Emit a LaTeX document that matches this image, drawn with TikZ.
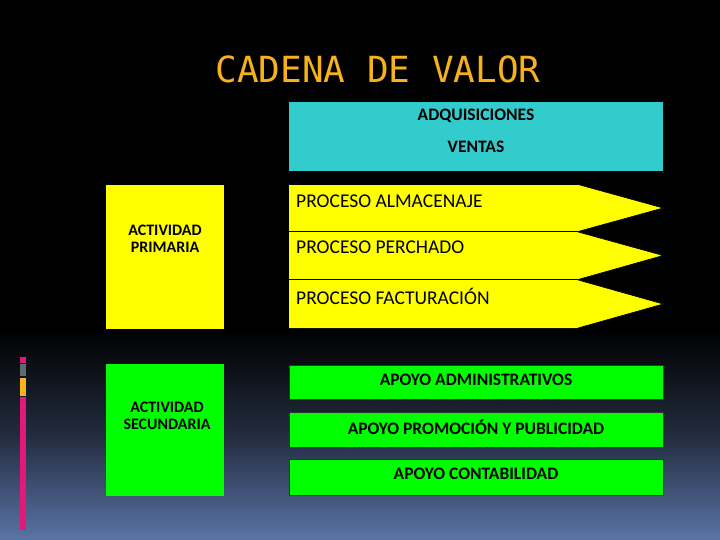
\documentclass[tikz,border=0pt]{standalone}
\usepackage{fontspec}
\setmainfont{Carlito}
\newfontfamily\titlefont{DejaVu Sans Mono}
\definecolor{bgbot}{HTML}{5A74A6}
\definecolor{cyanbox}{HTML}{33CCCC}
\definecolor{yel}{HTML}{FFFF00}
\definecolor{grn}{HTML}{00FF00}
\definecolor{titlecol}{HTML}{F5B21C}
\definecolor{mag}{HTML}{E3197A}
\definecolor{gry}{HTML}{5F6A78}
\definecolor{org}{HTML}{F7B41C}
\tikzset{
  btext/.style={font=\bfseries\fontsize{17.5}{20}\selectfont, text=black, align=center},
  ltext/.style={font=\bfseries\fontsize{16}{17}\selectfont, text=black, align=center},
  ptext/.style={font=\fontsize{19.5}{22}\selectfont, text=black, anchor=west, inner sep=0pt},
  arrowshape/.style={fill=yel, draw=black, line width=0.6pt},
  gbox/.style={fill=grn, draw=black!80, line width=0.8pt},
}
\begin{document}
\begin{tikzpicture}[x=1pt,y=-1pt]
\useasboundingbox (0,0) rectangle (720,540);
\fill[black] (0,0) rectangle (720,330);
\shade[top color=black, bottom color=black!62!bgbot] (0,329.5) rectangle (720,435.5);
\shade[top color=black!62!bgbot, bottom color=bgbot] (0,435) rectangle (720,540);
% title
\node[font=\titlefont\fontsize{36}{40}\selectfont, text=titlecol] (title) at (378,69) {CADENA DE VALOR};
% left bars
\fill[mag] (20,357) rectangle (26,363);
\fill[gry] (20,364) rectangle (26,376);
\fill[org] (20,377.5) rectangle (26,396);
\fill[mag] (20,397) rectangle (26,530);
% cyan box
\fill[cyanbox] (289,102) rectangle (663,171);
\node[btext] (adq) at (476,116) {ADQUISICIONES};
\node[btext] (ven) at (476,147) {VENTAS};
% primary activity
\fill[yel] (106,185) rectangle (224,329);
\node[ltext] (prim) at (165,239) {ACTIVIDAD\\PRIMARIA};
% process arrows
\path[arrowshape] (288.5,184.5) -- (578,184.5) -- (663,208) -- (578,231.5) -- (288.5,231.5) -- cycle;
\path[arrowshape] (288.5,232) -- (578,232) -- (663,255.5) -- (578,279.5) -- (288.5,279.5) -- cycle;
\path[arrowshape] (288.5,280) -- (578,280) -- (663,304) -- (578,328) -- (288.5,328) -- cycle;
\fill[yel] (289,185) rectangle (578,231);
\fill[yel] (289,232.4) rectangle (578,279);
\fill[yel] (289,280.4) rectangle (578,327.5);
\node[ptext] (p1) at (296,201) {PROCESO ALMACENAJE};
\node[ptext] (p2) at (296,247) {PROCESO PERCHADO};
\node[ptext] (p3) at (296,296) {PROCESO FACTURACIÓN};
% secondary activity
\fill[grn] (106,364) rectangle (224,496);
\node[ltext] (sec) at (167,416) {ACTIVIDAD\\SECUNDARIA};
\path[gbox] (289,365) rectangle (663,399);
\path[gbox] (289,412) rectangle (663,447);
\path[gbox] (289,459.5) rectangle (663,495.5);
\node[btext] (a1) at (476,380) {APOYO ADMINISTRATIVOS};
\node[btext] (a2) at (476,427) {APOYO PROMOCIÓN Y PUBLICIDAD};
\node[btext] (a3) at (476,474) {APOYO CONTABILIDAD};
\end{tikzpicture}
\end{document}
